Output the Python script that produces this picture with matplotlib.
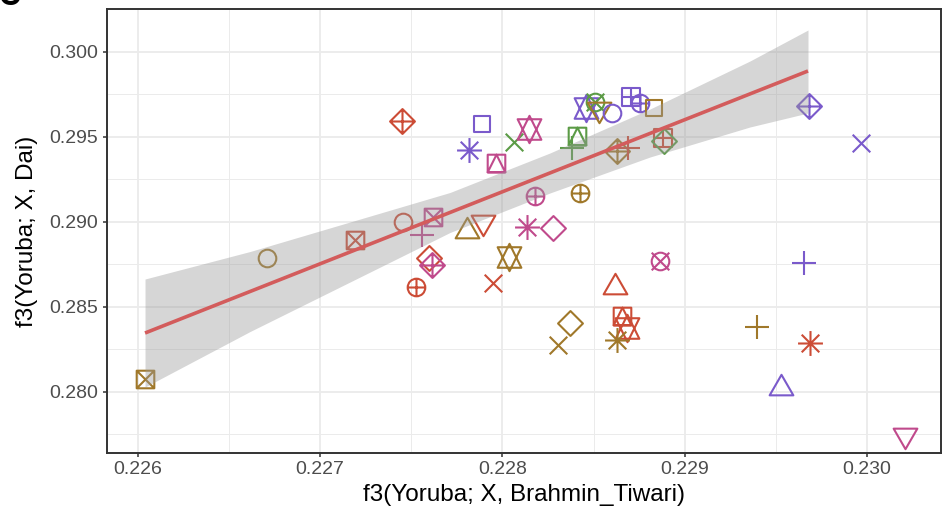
import numpy as np
import matplotlib
matplotlib.use("Agg")
import matplotlib.pyplot as plt
from matplotlib.path import Path

plt.rcParams["font.family"] = ["Liberation Sans", "DejaVu Sans"]

# f3 values for every test population
f3_tiwari = [0.226041, 0.226710, 0.227192, 0.227456, 0.227620, 0.227560, 0.227450,
             0.227598, 0.227615, 0.227527, 0.227806, 0.227894, 0.228037, 0.227949,
             0.228135, 0.228278, 0.228179, 0.228426, 0.227817, 0.227889, 0.227965,
             0.228064, 0.228146, 0.228410, 0.228382, 0.228459, 0.228508, 0.228530,
             0.228601, 0.228706, 0.228755, 0.228832, 0.228629, 0.228689, 0.228881,
             0.228887, 0.228865, 0.228618, 0.228656, 0.228684, 0.228629, 0.228371,
             0.228305, 0.229681, 0.229967, 0.229654, 0.229396, 0.229687, 0.229528,
             0.230208]
f3_dai = [0.280747, 0.287865, 0.288924, 0.289982, 0.290276, 0.289218, 0.295924,
          0.287865, 0.287453, 0.286159, 0.289453, 0.289982, 0.287924, 0.286394,
          0.289688, 0.289629, 0.291512, 0.291688, 0.294218, 0.295747, 0.293453,
          0.294688, 0.295453, 0.295041, 0.294335, 0.296688, 0.297041, 0.296629,
          0.296394, 0.297335, 0.296982, 0.296688, 0.294159, 0.294335, 0.294924,
          0.294747, 0.287688, 0.286159, 0.284453, 0.283747, 0.283041, 0.284041,
          0.282747, 0.296806, 0.294629, 0.287571, 0.283806, 0.282865, 0.280218,
          0.277453]
# R plotting symbols (pch) and colour groups
pop_pch = [7, 1, 7, 1, 7, 3, 9,
           5, 9, 10, 2, 6, 11, 4,
           8, 5, 10, 10, 8, 0, 14,
           4, 11, 14, 3, 11, 13, 6,
           1, 12, 10, 0, 9, 3, 12,
           5, 13, 2, 14, 11, 8, 5,
           4, 9, 4, 3, 3, 8, 2,
           6]
pop_group = ["gold", "gold", "red", "red", "magenta", "magenta", "red",
             "red", "magenta", "red", "gold", "red", "gold", "red",
             "magenta", "magenta", "magenta", "gold", "purple", "purple", "magenta",
             "green", "magenta", "green", "green", "purple", "green", "gold",
             "purple", "purple", "purple", "gold", "gold", "red", "red",
             "green", "magenta", "red", "red", "red", "gold", "gold",
             "gold", "purple", "purple", "purple", "gold", "red", "purple",
             "magenta"]

group_colours = {"red": "#CC4C36", "gold": "#A0782A", "purple": "#7A5ACB",
                 "magenta": "#C04A8C", "green": "#5B9B46"}

# linear fit with its confidence band
fit_x = [0.226041, 0.229676]
fit_y = [0.283453, 0.298865]
band_x = [0.226041, 0.226617, 0.227165, 0.227713, 0.228261, 0.228810, 0.229358, 0.229676]
band_lo = [0.280276, 0.283541, 0.286453, 0.289365, 0.291688, 0.293806, 0.295571, 0.296394]
band_hi = [0.286629, 0.288247, 0.289982, 0.291718, 0.294041, 0.296629, 0.299453, 0.301276]


def poly(pts):
    verts = list(pts) + [pts[0]]
    codes = [Path.MOVETO] + [Path.LINETO] * (len(pts) - 1) + [Path.CLOSEPOLY]
    return Path(verts, codes)


def seg(a, b):
    return Path([a, b], [Path.MOVETO, Path.LINETO])


def pch_path(code):
    s2 = np.sqrt(2)
    t0, t1, t2 = 1.5551, 1.3468, 0.7776
    circ = Path.circle((0, 0), 1.0)
    sq = poly([(-1, -1), (1, -1), (1, 1), (-1, 1)])
    plus = lambda h: [seg((-h, 0), (h, 0)), seg((0, -h), (0, h))]
    cross = lambda h: [seg((-h, -h), (h, h)), seg((-h, h), (h, -h))]
    diamond = poly([(0, s2), (s2, 0), (0, -s2), (-s2, 0)])
    if code == 0:
        k = 0.93
        parts = [poly([(-k, -k), (k, -k), (k, k), (-k, k)])]
    elif code == 1:
        parts = [circ]
    elif code == 2:
        parts = [poly([(0, t0), (t1, -t2), (-t1, -t2)])]
    elif code == 3:
        parts = plus(s2)
    elif code == 4:
        parts = cross(1)
    elif code == 5:
        parts = [diamond]
    elif code == 6:
        parts = [poly([(0, -t0), (t1, t2), (-t1, t2)])]
    elif code == 7:
        parts = [sq] + cross(1)
    elif code == 8:
        parts = cross(1) + plus(s2)
    elif code == 9:
        parts = [diamond] + plus(s2)
    elif code == 10:
        parts = [circ] + plus(1)
    elif code == 11:
        yc = 0.5 * (t2 + t0)
        parts = [poly([(0, -t0), (t1, yc), (-t1, yc)]),
                 poly([(0, t0), (t1, -yc), (-t1, -yc)])]
    elif code == 12:
        parts = [sq] + plus(1)
    elif code == 13:
        parts = [circ] + cross(1)
    else:
        parts = [sq, poly([(0, 1), (1, -1), (-1, -1)])]
    return Path.make_compound_path(*parts)


radius_pt = 8.8 * 72 / 100

fig = plt.figure(figsize=(9.42, 5.13), dpi=100)
ax = fig.add_axes([0.1133, 0.1175, 0.8856, 0.8644])

for x, y, p, g in zip(f3_tiwari, f3_dai, pop_pch, pop_group):
    path = pch_path(p)
    ms = 2 * np.abs(path.vertices).max() * radius_pt
    ax.plot(x, y, linestyle="none", marker=path, markersize=ms,
            markerfacecolor="none", markeredgecolor=group_colours[g],
            markeredgewidth=1.5, zorder=3)

ax.fill_between(band_x, band_lo, band_hi, color="#999999", alpha=0.4,
                linewidth=0, zorder=4)
ax.plot(fit_x, fit_y, color="#D35C5C", linewidth=2.6, solid_capstyle="butt", zorder=5)

ax.set_xticks([0.226, 0.227, 0.228, 0.229, 0.230])
ax.set_xticklabels(["0.226", "0.227", "0.228", "0.229", "0.230"])
ax.set_yticks([0.280, 0.285, 0.290, 0.295, 0.300])
ax.set_yticklabels(["0.280", "0.285", "0.290", "0.295", "0.300"])
ax.set_xticks([0.2265, 0.2275, 0.2285, 0.2295], minor=True)
ax.set_yticks([0.2775, 0.2825, 0.2875, 0.2925, 0.2975], minor=True)
ax.set_xlim(0.225831, 0.230405)
ax.set_ylim(0.276412, 0.302494)

ax.grid(which="major", color="#EBEBEB", linewidth=1.3, zorder=0)
ax.grid(which="minor", color="#EBEBEB", linewidth=0.7, zorder=0)
ax.set_axisbelow(True)
ax.tick_params(which="major", length=3.2, width=1.1, color="#333333",
               labelsize=14, labelcolor="#4D4D4D", pad=3)
ax.tick_params(which="minor", length=0)
for s in ax.spines.values():
    s.set_color("#333333")
    s.set_linewidth(1.4)

ax.set_xlabel("f3(Yoruba; X, Brahmin_Tiwari)", fontsize=17.5, labelpad=4)
ax.set_ylabel("f3(Yoruba; X, Dai)", fontsize=17.5, labelpad=8)

fig.text(-0.001, 0.991, "C", fontsize=22, fontweight="bold", va="baseline", ha="left")

fig.savefig("out.png", dpi=100)
